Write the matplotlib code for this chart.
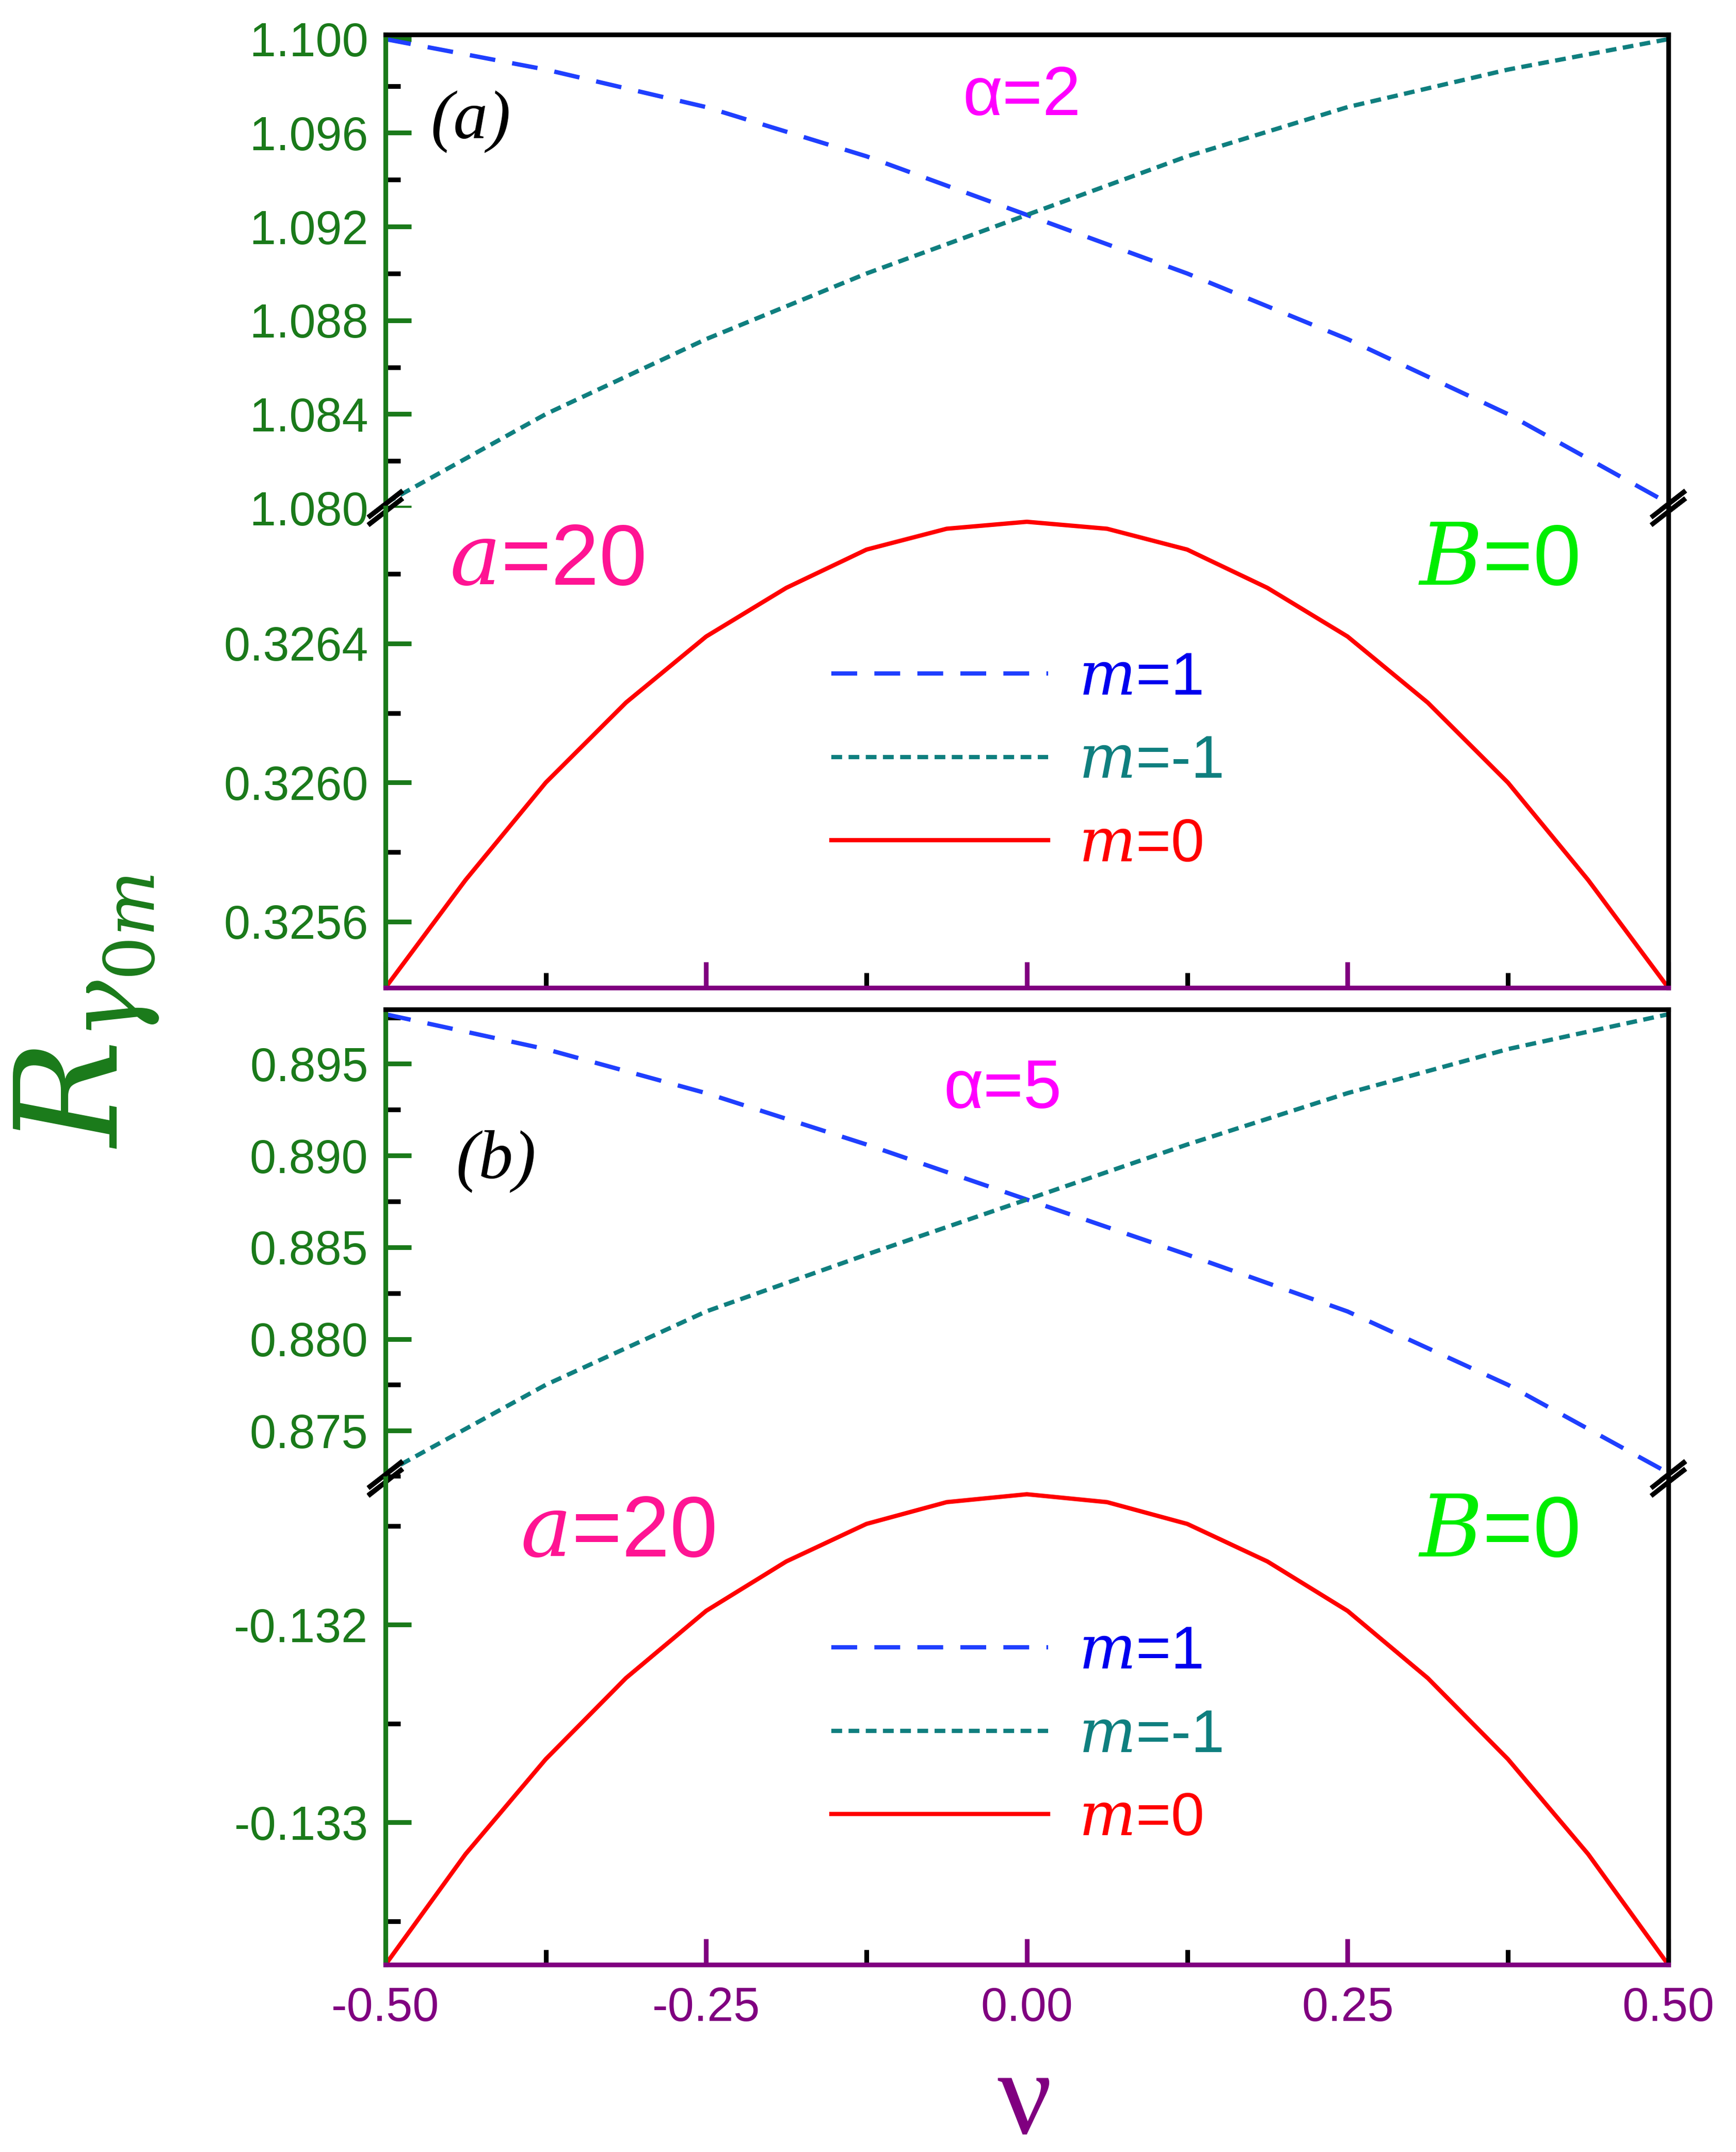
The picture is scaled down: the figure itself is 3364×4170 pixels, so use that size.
import matplotlib.pyplot as plt
from matplotlib.ticker import MultipleLocator, FormatStrFormatter

nu = [-0.5, -0.375, -0.25, -0.125, 0.0, 0.125, 0.25, 0.375, 0.5]
nu_f = [-0.5, -0.4375, -0.375, -0.3125, -0.25, -0.1875, -0.125, -0.0625, 0.0,
        0.0625, 0.125, 0.1875, 0.25, 0.3125, 0.375, 0.4375, 0.5]

# panel (a), alpha=2
a_m1 = [1.1000, 1.0987, 1.0971, 1.0950, 1.0925, 1.0900, 1.0872, 1.0840, 1.0802]
a_mm1 = [1.0802, 1.0840, 1.0872, 1.0900, 1.0925, 1.0950, 1.0971, 1.0987, 1.1000]
a_m0 = [0.32541, 0.32572, 0.32600, 0.32623, 0.32642, 0.32656, 0.32667, 0.32673, 0.32675,
        0.32673, 0.32667, 0.32656, 0.32642, 0.32623, 0.32600, 0.32572, 0.32541]

# panel (b), alpha=5
b_m1 = [0.8977, 0.8958, 0.8934, 0.8906, 0.8876, 0.8846, 0.8815, 0.8775, 0.8727]
b_mm1 = [0.8727, 0.8775, 0.8815, 0.8846, 0.8876, 0.8906, 0.8934, 0.8958, 0.8977]
b_m0 = [-0.13372, -0.13316, -0.13268, -0.13227, -0.13193, -0.13168, -0.13149, -0.13138, -0.13134,
        -0.13138, -0.13149, -0.13168, -0.13193, -0.13227, -0.13268, -0.13316, -0.13372]

GREEN = '#1a7a1a'
PURPLE = '#800080'
LW = 2.2

plt.rcParams['font.family'] = ['Liberation Sans', 'DejaVu Sans']
plt.rcParams['mathtext.fontset'] = 'dejavuserif'
fig = plt.figure(figsize=(3364 / 300, 4170 / 300), dpi=300)

L, W = 0.222, 0.739
boxes = [(0.764, 0.220), (0.541, 0.223), (0.313, 0.218), (0.087, 0.226)]
axs = [fig.add_axes([L, b, W, h]) for b, h in boxes]

def style(ax, upper, xlabels=False):
    for s in ax.spines.values():
        s.set_linewidth(LW)
    ax.spines['left'].set_color(GREEN)
    ax.spines['right'].set_color('black')
    ax.spines['top'].set_color('black')
    ax.spines['bottom'].set_color(PURPLE)
    if upper:
        ax.spines['bottom'].set_visible(False)
    else:
        ax.spines['top'].set_visible(False)
    ax.set_xlim(-0.5, 0.5)
    ax.xaxis.set_major_locator(MultipleLocator(0.25))
    ax.xaxis.set_minor_locator(MultipleLocator(0.125))
    ax.tick_params(axis='both', which='both', direction='in', width=LW)
    ax.tick_params(axis='both', which='major', length=12)
    ax.tick_params(axis='both', which='minor', length=7)
    ax.tick_params(axis='y', colors=GREEN, labelsize=22, right=False, pad=8)
    ax.tick_params(axis='x', colors=PURPLE, labelsize=22, pad=10)
    if upper:
        ax.tick_params(axis='x', which='both', bottom=False, labelbottom=False)
    else:
        ax.tick_params(axis='x', which='both', top=False, labelbottom=xlabels)

def breakmarks(ax, y):
    d, e = 0.012, 0.025
    for x in (0, 1):
        for off in (-0.008, 0.008):
            ax.plot([x - d, x + d], [y + off - e, y + off + e], transform=ax.transAxes,
                    color='black', lw=LW, clip_on=False)

def set_y(ax, ylim, major, minor, fmt):
    ax.set_ylim(*ylim)
    ax.yaxis.set_major_locator(MultipleLocator(major))
    ax.yaxis.set_minor_locator(MultipleLocator(minor))
    ax.yaxis.set_major_formatter(FormatStrFormatter(fmt))

def top_panel(ax, m1, mm1, ylim, major, minor, fmt):
    ax.plot(nu, m1, color='#1f3fff', ls=(0, (6, 4)), lw=2)
    ax.plot(nu, mm1, color='#0f7f7f', ls=(0, (2.5, 1.5)), lw=2)
    set_y(ax, ylim, major, minor, fmt)
    style(ax, True)
    breakmarks(ax, 0)

def bottom_panel(ax, m0, ylim, major, minor, fmt, xlabels):
    ax.plot(nu_f, m0, color='red', lw=2)
    set_y(ax, ylim, major, minor, fmt)
    style(ax, False, xlabels)
    breakmarks(ax, 1)
    h1, = ax.plot([], [], color='#1f3fff', ls=(0, (6, 4)), lw=2)
    h2, = ax.plot([], [], color='#0f7f7f', ls=(0, (2.5, 1.5)), lw=2)
    h3, = ax.plot([], [], color='red', lw=2)
    leg = ax.legend([h1, h2, h3], [r'$m$=1', r'$m$=-1', r'$m$=0'], frameon=False,
                    fontsize=28, handlelength=3.6, loc='center', bbox_to_anchor=(0.5, 0.47),
                    labelspacing=0.45, handletextpad=0.5)
    for t, c in zip(leg.get_texts(), ['#0000ee', '#0f7f7f', 'red']):
        t.set_color(c)

top_panel(axs[0], a_m1, a_mm1, (1.080, 1.1002), 0.004, 0.002, '%.3f')
bottom_panel(axs[1], a_m0, (0.32541, 0.32679), 0.0004, 0.0002, '%.4f', False)
top_panel(axs[2], b_m1, b_mm1, (0.8724, 0.89797), 0.005, 0.0025, '%.3f')
bottom_panel(axs[3], b_m0, (-0.13372, -0.13126), 0.001, 0.0005, '%.3f', True)
axs[3].xaxis.set_major_formatter(FormatStrFormatter('%.2f'))

serif = ['Liberation Serif', 'DejaVu Serif']
axs[0].text(0.035, 0.78, '(a)', transform=axs[0].transAxes, fontsize=32,
            family=serif, style='italic')
axs[0].text(0.45, 0.83, 'α=2', transform=axs[0].transAxes, fontsize=32, color='#ff00ff')
axs[2].text(0.055, 0.64, '(b)', transform=axs[2].transAxes, fontsize=32,
            family=serif, style='italic')
axs[2].text(0.435, 0.79, 'α=5', transform=axs[2].transAxes, fontsize=32, color='#ff00ff')
for ax, xa in ((axs[1], 0.05), (axs[3], 0.105)):
    ax.text(xa, 0.84, r'$a$=20', transform=ax.transAxes, fontsize=40, color='#ff1493')
    ax.text(0.805, 0.84, r'$B$=0', transform=ax.transAxes, fontsize=40, color='#00ee00')

fig.text(0.05, 0.53, r'$R_{\gamma_{0m}}$', color=GREEN, fontsize=66, rotation=90,
         ha='center', va='center')
fig.text(0.59, 0.022, 'ν', color=PURPLE, fontsize=56, ha='center', va='center', family=serif)

fig.savefig('out.png', dpi=300)
